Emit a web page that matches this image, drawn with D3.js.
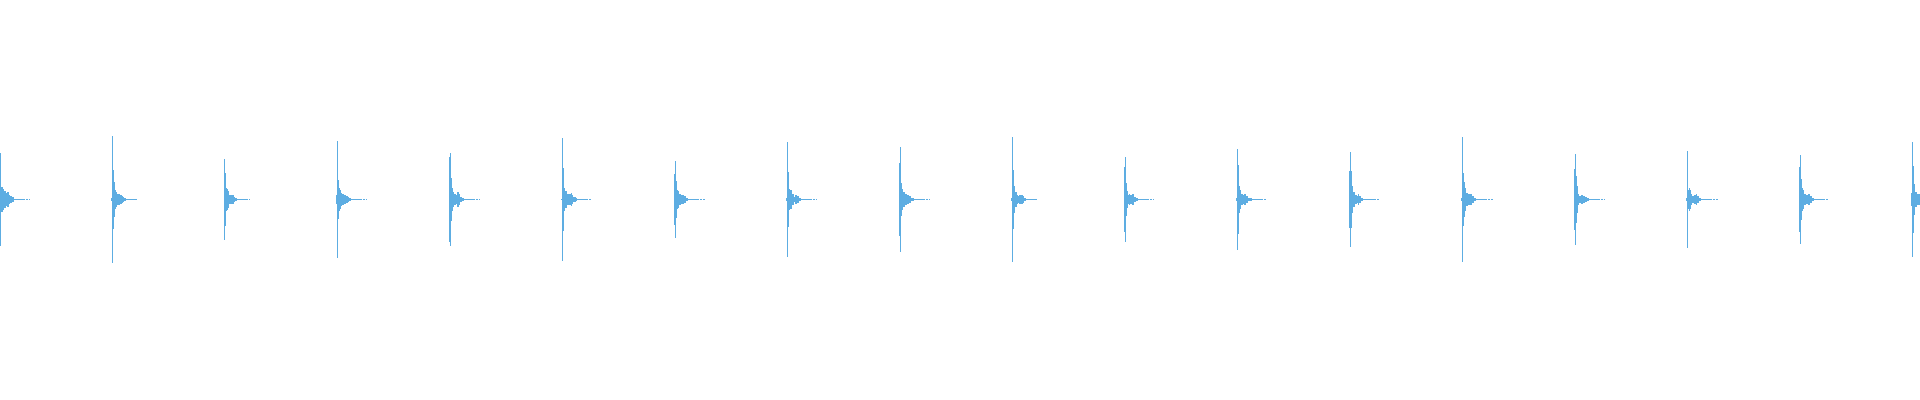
<!DOCTYPE html>
<html>
<head>
<meta charset="utf-8">
<script src="https://cdn.jsdelivr.net/npm/d3@7"></script>
<style>
  html, body { margin: 0; padding: 0; background: #ffffff; overflow: hidden; }
  svg { display: block; }
</style>
</head>
<body>
<svg id="chart" width="1920" height="400"></svg>
<script>
// Waveform peaks: one value per display bin (1920 bins across the track)
const totalBins = 1920;

// bin index where each drum hit starts, and the last audible bin of each hit
const hitOnsets = [0, 111, 224, 336, 449, 561, 674, 786, 899, 1011, 1124, 1236, 1349, 1461, 1574, 1686, 1799, 1911];
const hitEnds   = [29, 136, 249, 366, 479, 590, 704, 816, 929, 1036, 1153, 1266, 1378, 1492, 1604, 1717, 1828, 1920];

// normalized peak amplitude per bin for the attack/decay of each hit
const hit00 = [0.234, 0.061, 0.061, 0.053, 0.043, 0.043, 0.031, 0.039, 0.039, 0.025, 0.018, 0.018, 0.011, 0.011];
const hit01 = [0.009, 0.317, 0.147, 0.087, 0.050, 0.039, 0.030, 0.027, 0.027, 0.024, 0.024, 0.017, 0.014, 0.007, 0.007];
const hit02 = [0.202, 0.134, 0.060, 0.055, 0.044, 0.022, 0.024, 0.024, 0.024, 0.024, 0.014, 0.007, 0.007];
const hit03 = [0.022, 0.292, 0.097, 0.060, 0.047, 0.034, 0.027, 0.027, 0.024, 0.024, 0.017, 0.017, 0.014, 0.007, 0.007];
const hit04 = [0.214, 0.234, 0.107, 0.057, 0.037, 0.030, 0.030, 0.024, 0.037, 0.037, 0.027, 0.014, 0.014, 0.009, 0.009];
const hit05 = [0.002, 0.307, 0.157, 0.057, 0.042, 0.042, 0.027, 0.027, 0.030, 0.030, 0.034, 0.022, 0.012, 0.012, 0.012, 0.007];
const hit06 = [0.127, 0.192, 0.094, 0.050, 0.042, 0.027, 0.027, 0.022, 0.022, 0.024, 0.017, 0.017, 0.010, 0.010];
const hit07 = [0.009, 0.287, 0.139, 0.054, 0.047, 0.047, 0.030, 0.030, 0.014, 0.025, 0.025, 0.017, 0.017, 0.010, 0.010];
const hit08 = [0.184, 0.262, 0.084, 0.054, 0.037, 0.037, 0.030, 0.030, 0.024, 0.024, 0.017, 0.017, 0.010, 0.010, 0.010];
const hit09 = [0.009, 0.314, 0.147, 0.067, 0.037, 0.037, 0.022, 0.017, 0.022, 0.022, 0.022, 0.022, 0.017, 0.009, 0.009, 0.005, 0.005];
const hit10 = [0.164, 0.214, 0.084, 0.044, 0.022, 0.027, 0.024, 0.024, 0.027, 0.027, 0.014, 0.014, 0.010, 0.010];
const hit11 = [0.009, 0.252, 0.174, 0.067, 0.047, 0.030, 0.030, 0.022, 0.027, 0.027, 0.017, 0.017, 0.010, 0.010, 0.007, 0.007];
const hit12 = [0.144, 0.237, 0.144, 0.067, 0.037, 0.037, 0.024, 0.024, 0.020, 0.027, 0.017, 0.017, 0.010, 0.010, 0.005, 0.005];
const hit13 = [0.009, 0.314, 0.134, 0.087, 0.057, 0.034, 0.034, 0.027, 0.027, 0.030, 0.030, 0.020, 0.020, 0.010, 0.010];
const hit14 = [0.154, 0.227, 0.117, 0.067, 0.030, 0.020, 0.020, 0.024, 0.024, 0.017, 0.017, 0.014, 0.014, 0.007, 0.007];
const hit15 = [0.009, 0.242, 0.050, 0.060, 0.050, 0.030, 0.020, 0.020, 0.024, 0.024, 0.027, 0.017, 0.017, 0.010, 0.010];
const hit16 = [0.164, 0.222, 0.102, 0.060, 0.050, 0.030, 0.030, 0.024, 0.024, 0.027, 0.027, 0.017, 0.017, 0.010, 0.010];
const hit17 = [0.034, 0.287, 0.167, 0.077, 0.040, 0.037, 0.027, 0.027, 0.027];

// low-level ring-out after each hit (normalized peak per bin)
const tailPeaks = [0.003, 0.003, 0.003, 0.003, 0.003, 0.003, 0.003, 0.003, 0.003, 0.003,
                   0.003, 0.0, 0.003, 0.003, 0.0, 0.003, 0.003, 0.0, 0.003, 0.003];

const hitHeads = [hit00, hit01, hit02, hit03, hit04, hit05, hit06, hit07, hit08, hit09,
                  hit10, hit11, hit12, hit13, hit14, hit15, hit16, hit17];

// ---- build bin table ----
const peaks = new Array(totalBins).fill(0);
hitOnsets.forEach((onset, h) => {
  const seq = hitHeads[h].concat(tailPeaks);
  seq.forEach((v, k) => {
    const b = onset + k;
    if (b < totalBins && b <= hitEnds[h]) peaks[b] = v;
  });
});
const bins = peaks.map((v, i) => ({ i, max: v, min: -v })).filter(d => d.max > 0);

// ---- draw ----
const W = 1920, H = 400;
const svg = d3.select("#chart");
const x = d3.scaleLinear().domain([0, totalBins]).range([0, W]);
const y = d3.scaleLinear().domain([-1, 1]).range([H - 1, 0]);

svg.append("g")
  .attr("shape-rendering", "crispEdges")
  .selectAll("rect")
  .data(bins)
  .join("rect")
  .attr("x", d => x(d.i))
  .attr("width", d => x(d.i + 1) - x(d.i))
  .attr("y", d => Math.round(y(d.max)))
  .attr("height", d => Math.max(1, Math.round(y(d.min)) - Math.round(y(d.max))))
  .attr("fill", "#5dade2");
</script>
</body>
</html>
